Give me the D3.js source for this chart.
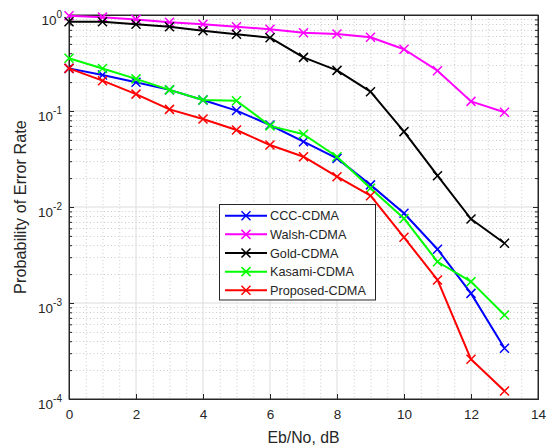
<!DOCTYPE html>
<html><head><meta charset="utf-8">
<script src="https://cdn.jsdelivr.net/npm/d3@7"></script>
<style>body{margin:0;background:#fff}svg{display:block;font-family:"Liberation Sans",Arial,sans-serif}</style>
</head><body><svg id="c" width="550" height="447"></svg>
<script>
const ebno = [0,1,2,3,4,5,6,7,8,9,10,11,12,13];
const seriesNames = ["CCC-CDMA","Walsh-CDMA","Gold-CDMA","Kasami-CDMA","Proposed-CDMA"];
const seriesColors = ["#0000ff","#ff00ff","#000000","#00ff00","#ff0000"];
const cccBer = [0.278,0.237,0.199,0.166,0.130,0.101,0.0715,0.0479,0.0321,0.0170,0.0086,0.00363,0.00126,0.000338];
const walshBer = [0.98,0.95,0.90,0.84,0.80,0.755,0.71,0.654,0.634,0.586,0.44,0.263,0.126,0.097];
const goldBer = [0.85,0.85,0.80,0.755,0.686,0.63,0.58,0.362,0.265,0.159,0.061,0.0212,0.0075,0.00419];
const kasamiBer = [0.354,0.277,0.216,0.166,0.130,0.128,0.070,0.0572,0.0334,0.0157,0.0076,0.00269,0.00167,0.00075];
const proposedBer = [0.278,0.207,0.150,0.104,0.0826,0.0634,0.0442,0.0334,0.0207,0.0131,0.00483,0.00174,0.000259,0.000121];
const xTicks = [0,2,4,6,8,10,12,14];
const yTickExp = [0,-1,-2,-3,-4];
const xLabel = "Eb/No, dB";
const yLabel = "Probability of Error Rate";

const allSeries = [cccBer, walshBer, goldBer, kasamiBer, proposedBer];
const L = 69, T = 15, W = 469, H = 384;
const svg = d3.select("#c");
const g = svg.append("g").attr("transform", `translate(${L},${T})`);
const x = d3.scaleLinear().domain([0,14]).range([0,W]);
const y = d3.scaleLog().domain([1e-4,1]).range([H,0]);

// minor grid
const minorX = d3.range(0.5, 14, 0.5).filter(v => v % 2 !== 0);
const minorY = [];
for (let e=-4; e<0; e++) for (let m=2; m<=9; m++) minorY.push(m*Math.pow(10,e));
g.selectAll(".mgx").data(minorX).enter().append("line")
  .attr("x1", d=>x(d)+0.5).attr("x2", d=>x(d)+0.5).attr("y1",0).attr("y2",H)
  .attr("stroke","#bdbdbd").attr("stroke-width",0.8).attr("stroke-dasharray","1,2.5");
g.selectAll(".mgy").data(minorY).enter().append("line")
  .attr("y1", d=>Math.round(y(d))+0.5).attr("y2", d=>Math.round(y(d))+0.5).attr("x1",0).attr("x2",W)
  .attr("stroke","#bdbdbd").attr("stroke-width",0.8).attr("stroke-dasharray","1,2.5");
// major grid
g.selectAll(".gx").data(xTicks.slice(1,-1)).enter().append("line")
  .attr("x1", d=>x(d)).attr("x2", d=>x(d)).attr("y1",0).attr("y2",H)
  .attr("stroke","#dcdcdc").attr("stroke-width",1);
g.selectAll(".gy").data(yTickExp.slice(1,-1)).enter().append("line")
  .attr("y1", d=>y(Math.pow(10,d))).attr("y2", d=>y(Math.pow(10,d))).attr("x1",0).attr("x2",W)
  .attr("stroke","#dcdcdc").attr("stroke-width",1);

// axes with inward ticks
const axCol = "#262626";
const tickFont = "13.5px";
const xAxisB = d3.axisBottom(x).tickValues(xTicks).tickSizeInner(-5).tickSizeOuter(0).tickPadding(10);
const gxB = g.append("g").attr("transform",`translate(0,${H})`).call(xAxisB);
gxB.selectAll("text").attr("font-size",tickFont).attr("fill",axCol).attr("font-family","Liberation Sans, Arial, sans-serif");
const xAxisT = d3.axisTop(x).tickValues(xTicks).tickSizeInner(-5).tickSizeOuter(0).tickFormat("");
g.append("g").call(xAxisT);
const yMajor = yTickExp.map(e=>Math.pow(10,e));
const yAxisL = d3.axisLeft(y).tickValues(yMajor).tickSizeInner(-5).tickSizeOuter(0).tickFormat("");
g.append("g").call(yAxisL);
const yAxisLm = d3.axisLeft(y).tickValues(minorY).tickSizeInner(-3).tickSizeOuter(0).tickFormat("");
g.append("g").call(yAxisLm);
const yAxisR = d3.axisRight(y).tickValues(yMajor).tickSizeInner(-5).tickSizeOuter(0).tickFormat("");
g.append("g").attr("transform",`translate(${W},0)`).call(yAxisR);
const yAxisRm = d3.axisRight(y).tickValues(minorY).tickSizeInner(-3).tickSizeOuter(0).tickFormat("");
g.append("g").attr("transform",`translate(${W},0)`).call(yAxisRm);
g.selectAll(".domain").attr("stroke", axCol);
g.selectAll(".tick line").attr("stroke", axCol);

// y tick labels with superscripts
yTickExp.forEach(e => {
  const t = g.append("text").attr("x",-7).attr("y", y(Math.pow(10,e))+10)
    .attr("text-anchor","end").attr("fill",axCol).attr("font-size",tickFont);
  t.append("tspan").text("10");
  t.append("tspan").attr("font-size","10px").attr("dy",-7).text(String(e));
});

// box
g.append("rect").attr("x",0).attr("y",0).attr("width",W).attr("height",H)
  .attr("fill","none").attr("stroke",axCol).attr("stroke-width",1);

// data
const line = d3.line().x((d,i)=>x(ebno[i])).y(d=>y(d));
const ms = 4.5;
function marker(sel, cx, cy, col){
  sel.append("path").attr("d",`M${cx-ms},${cy-ms}L${cx+ms},${cy+ms}M${cx-ms},${cy+ms}L${cx+ms},${cy-ms}`)
    .attr("stroke",col).attr("stroke-width",1.5).attr("fill","none");
}
const dataG = g.append("g");
allSeries.forEach((s,k) => {
  const col = seriesColors[k];
  dataG.append("path").datum(s).attr("d",line).attr("fill","none")
    .attr("stroke",col).attr("stroke-width",2).attr("stroke-linejoin","round");
  s.forEach((v,i)=>marker(dataG, x(ebno[i]), y(v), col));
});

// axis labels
svg.append("text").attr("x", L + x(7)).attr("y", 443).attr("text-anchor","middle")
  .attr("font-size","15.8px").attr("fill",axCol).text(xLabel);
svg.append("text").attr("transform",`translate(26,${T+H/2}) rotate(-90)`).attr("text-anchor","middle")
  .attr("font-size","16.3px").attr("fill",axCol).text(yLabel);

// legend
const lgX = 219.5, lgY = 204.5, lgW = 156, lgH = 95.5;
svg.append("rect").attr("x",lgX).attr("y",lgY).attr("width",lgW).attr("height",lgH)
  .attr("fill","#fff").attr("stroke",axCol).attr("stroke-width",1);
seriesNames.forEach((n,k)=>{
  const yy = 215.7 + k*18.65;
  svg.append("line").attr("x1",225).attr("x2",267).attr("y1",yy).attr("y2",yy)
    .attr("stroke",seriesColors[k]).attr("stroke-width",2);
  marker(svg, 246, yy, seriesColors[k]);
  svg.append("text").attr("x",270).attr("y",yy+4.5).attr("font-size","12.7px").attr("fill",axCol).text(n);
});
</script></body></html>
